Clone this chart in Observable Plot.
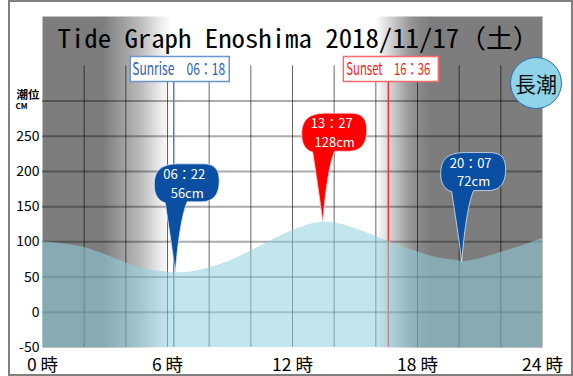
<!DOCTYPE html>
<html><head><meta charset="utf-8">
<script src="https://cdn.jsdelivr.net/npm/d3@7"></script>
<script src="https://cdn.jsdelivr.net/npm/@observablehq/plot@0.6"></script>
<style>
html,body{margin:0;padding:0;background:#fff;}
#wrap{position:relative;width:573px;height:376px;overflow:hidden;font-family:"Noto Sans CJK JP",sans-serif;}
#chart svg{position:absolute;left:0;top:0;}
#frame{position:absolute;left:8px;top:0;width:565px;height:376px;box-sizing:border-box;border:2px solid #808080;pointer-events:none;}
#badge{position:absolute;left:510px;top:57px;width:52px;height:52px;box-sizing:border-box;border-radius:50%;background:#8fd4e8;border:1.5px solid #2f6db3;display:flex;align-items:center;justify-content:center;font-size:21px;color:#111;line-height:1;}
</style></head><body>
<svg width="0" height="0" style="position:absolute;left:0;top:0"><defs><linearGradient id="night" x1="0" x2="1" y1="0" y2="0"></linearGradient></defs></svg>
<div id="wrap"><div id="chart"></div><div id="frame"></div><div id="badge">長潮</div></div>
<script>
// ---- data ----
const hours  = [0,1,2,3,4,5,6,6.37,7,8,9,10,11,12,13,13.45,14,15,16,17,18,19,20,20.12,21,22,23,24];
const levels = [100,97,92,82,70,61,57,56,57,63,73,87,102,116,126,128,127,119,108,96,86,77,73,72,76,85,94,105];

const extremeHours  = [6.37, 13.45, 20.12];
const extremeLevels = [56, 128, 72];
const extremeTimes  = ["06：22", "13：27", "20：07"];
const extremeKinds  = ["low", "high", "low"];

const sunriseHour = 6.3,  sunriseLabel = "Sunrise　06：18";
const sunsetHour  = 16.6, sunsetLabel  = "Sunset　16：36";

const titleText = "Tide Graph Enoshima 2018/11/17（土）";
const xTicks = [0, 6, 12, 18, 24];
const xGrid  = [2,4,6,8,10,12,14,16,18,20,22];
const yTicks = [-50, 0, 50, 100, 150, 200, 250];
const yGrid  = [0, 50, 100, 150, 200, 250, 300];
const yGridTop = 350;

// gradient for day / night shading (hour, grey level)
const shadeHours  = [0, 2.9, 3.7, 4.7, 5.7, 6.2, 16.0, 16.8, 17.6, 18.1, 18.6, 24];
const shadeLevels = [125, 125, 153, 187, 238, 255, 255, 204, 153, 136, 125, 125];

const grad = document.getElementById("night");
shadeHours.forEach((h, i) => {
  const s = document.createElementNS("http://www.w3.org/2000/svg", "stop");
  s.setAttribute("offset", h / 24);
  const g = shadeLevels[i];
  s.setAttribute("stop-color", `rgb(${g},${g},${g})`);
  grad.appendChild(s);
});

const tide = hours.map((h, i) => ({h, v: levels[i]}));
const extremes = extremeHours.map((h, i) => ({h, v: extremeLevels[i], t: extremeTimes[i], cm: extremeLevels[i] + "cm", kind: extremeKinds[i]}));

const balloon = {draw(c) {
  c.moveTo(0, 0);
  c.bezierCurveTo(-3, -25, -7, -50, -10, -70);
  c.bezierCurveTo(-17, -72, -21, -78, -21, -88);
  c.bezierCurveTo(-21, -104, -12, -109, 4, -109);
  c.lineTo(28, -109);
  c.bezierCurveTo(40, -109, 44, -103, 44, -92);
  c.bezierCurveTo(44, -78, 38, -71, 26, -71);
  c.lineTo(12, -71);
  c.bezierCurveTo(7, -60, 3, -35, 0, 0);
  c.closePath();
}};
const rectSym = (w, h) => ({draw(c) { c.rect(-w / 2, -h / 2, w, h); }});

const chart = Plot.plot({
  width: 573, height: 376,
  marginLeft: 42, marginRight: 31, marginTop: 16, marginBottom: 29,
  x: {domain: [0, 24], axis: null},
  y: {domain: [-50, 420], axis: null},
  style: {fontFamily: "'Noto Sans CJK JP', sans-serif", background: "transparent", color: "black"},
  marks: [
    Plot.frame({fill: "url(#night)", stroke: "none"}),
    Plot.ruleY(yGrid, {y: d => d, stroke: "black", strokeOpacity: 0.33, strokeWidth: 2}),
    Plot.ruleX(xGrid, {x: d => d, y1: -50, y2: yGridTop, stroke: "black", strokeOpacity: 0.6, strokeWidth: 1}),
    Plot.ruleX([sunriseHour], {x: d => d, insetTop: 65, stroke: "#4f7fc4", strokeWidth: 1.5}),
    Plot.ruleX([sunsetHour], {x: d => d, insetTop: 65, stroke: "#ff3030", strokeWidth: 1.5}),
    Plot.areaY(tide, {x: "h", y1: -50, y2: "v", fill: "rgb(145,209,224)", fillOpacity: 0.55, curve: "catmull-rom"}),
    Plot.dot([sunriseHour], {x: d => d, frameAnchor: "top", dy: 52.5, dx: 6, symbol: rectSym(99, 25), fill: "white", stroke: "#6a95d2", strokeWidth: 1.5}),
    Plot.text([sunriseHour], {x: d => d, frameAnchor: "top", lineAnchor: "middle", dy: 53, dx: 5, text: () => sunriseLabel, fill: "#2c60b2", fontSize: 17}),
    Plot.dot([sunsetHour], {x: d => d, frameAnchor: "top", dy: 52.5, dx: 2.5, symbol: rectSym(95, 25), fill: "white", stroke: "#ff6a6a", strokeWidth: 1.5}),
    Plot.text([sunsetHour], {x: d => d, frameAnchor: "top", lineAnchor: "middle", dy: 53, dx: 0, text: () => sunsetLabel, fill: "#ff1a1a", fontSize: 17}),
    Plot.dot(extremes.filter(d => d.kind === "low"), {x: "h", y: "v", symbol: balloon, fill: "#0b4fa3", stroke: "#d8e4f0", strokeWidth: 0.8}),
    Plot.dot(extremes.filter(d => d.kind === "high"), {x: "h", y: "v", symbol: balloon, fill: "#ff0000", stroke: "#ffd0d0", strokeWidth: 0.8}),
    Plot.text(extremes, {x: "h", y: "v", text: "t", dx: 9, dy: -98, fill: "white", fontSize: 13}),
    Plot.text(extremes, {x: "h", y: "v", text: "cm", dx: 12, dy: -79.5, fill: "white", fontSize: 13}),
    Plot.text([titleText], {text: d => d, frameAnchor: "top", lineAnchor: "middle", dy: 23, dx: 6, fontSize: 26, fill: "black", fontFamily: "'Noto Sans Mono CJK JP','Noto Sans CJK JP',monospace"}),
    Plot.text(xTicks, {x: d => d, text: d => `${d} 時`, frameAnchor: "bottom", lineAnchor: "middle", dy: 18, fontSize: 17.5, fill: "black"}),
    Plot.text(yTicks, {y: d => d, text: d => String(d), frameAnchor: "left", textAnchor: "end", dx: -3, fontSize: 14, fill: "black"}),
    Plot.text(["潮位"], {text: d => d, frameAnchor: "top-left", lineAnchor: "middle", textAnchor: "end", dx: -3, dy: 78.5, fontSize: 11.5, fontWeight: "bold", fill: "black"}),
    Plot.text(["CM"], {text: d => d, frameAnchor: "top-left", lineAnchor: "middle", textAnchor: "start", dx: -27, dy: 89.5, fontSize: 8, fontWeight: "bold", fill: "black"})
  ]
});

const fit = {[titleText]: 482, [sunriseLabel]: 93, [sunsetLabel]: 84};
chart.querySelectorAll("text").forEach(t => {
  const w = fit[t.textContent];
  if (w) { t.setAttribute("textLength", w); t.setAttribute("lengthAdjust", "spacingAndGlyphs"); }
});
document.getElementById("chart").appendChild(chart);
</script>
</body></html>
